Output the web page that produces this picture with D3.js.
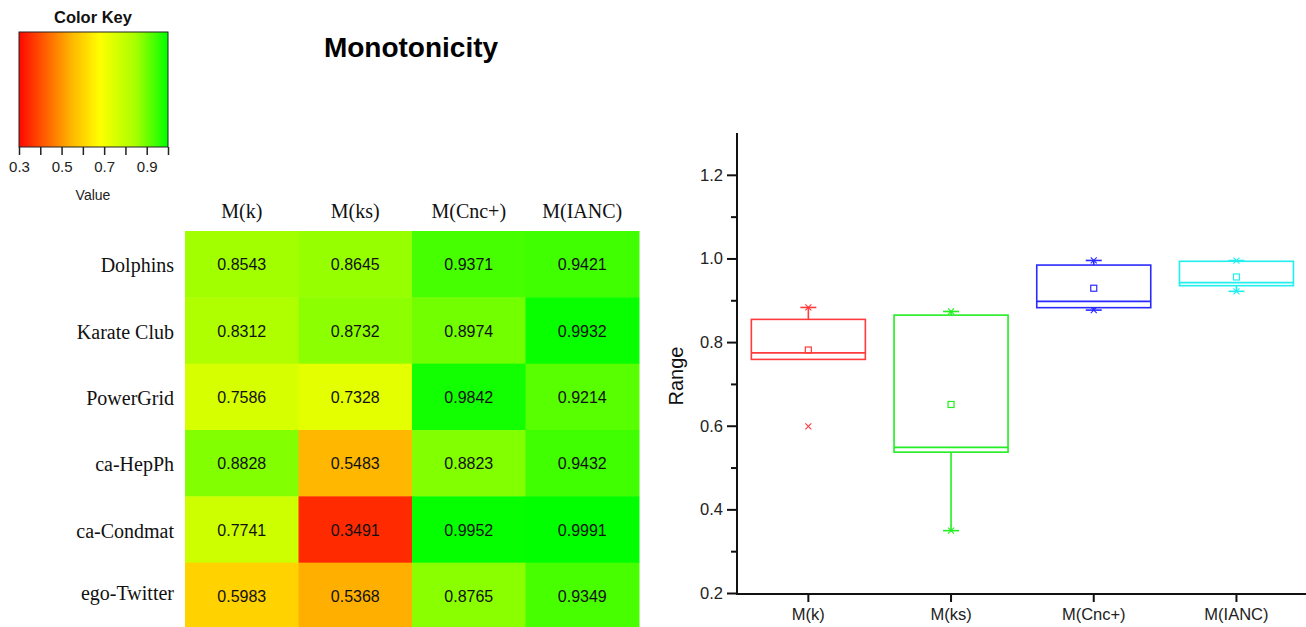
<!DOCTYPE html>
<html><head><meta charset="utf-8">
<script src="https://cdn.jsdelivr.net/npm/d3@7"></script>
<style>body{margin:0;background:#fff}svg{display:block}</style>
</head><body>
<svg id="c" width="1306" height="627"></svg>
<script>
// ---------- data ----------
const methods = ["M(k)", "M(ks)", "M(Cnc+)", "M(IANC)"];
const networks = ["Dolphins", "Karate Club", "PowerGrid", "ca-HepPh", "ca-Condmat", "ego-Twitter"];
const valMk    = [0.8543, 0.8312, 0.7586, 0.8828, 0.7741, 0.5983];
const valMks   = [0.8645, 0.8732, 0.7328, 0.5483, 0.3491, 0.5368];
const valMcnc  = [0.9371, 0.8974, 0.9842, 0.8823, 0.9952, 0.8765];
const valMianc = [0.9421, 0.9932, 0.9214, 0.9432, 0.9991, 0.9349];
const keyTicks = [0.3, 0.5, 0.7, 0.9];
// box statistics
const boxLow    = [0.7586, 0.3491, 0.8765, 0.9214];  // lower whisker
const boxQ1     = [0.7586, 0.5368, 0.8823, 0.9349];
const boxMedian = [0.7741, 0.5483, 0.8974, 0.9421];
const boxQ3     = [0.8543, 0.8645, 0.9842, 0.9932];
const boxHigh   = [0.8828, 0.8732, 0.9952, 0.9950];  // upper whisker
const boxMean   = [0.7810, 0.6508, 0.9288, 0.9557];
const boxMin    = [0.5983, 0.3491, 0.8765, 0.9214];
const boxMax    = [0.8828, 0.8732, 0.9952, 0.9950];
const rangeTicks = [0.2, 0.4, 0.6, 0.8, 1.0, 1.2];

const svg = d3.select("#c");
const sans = "Liberation Sans, Arial, sans-serif";
const serif = "Liberation Serif, Times New Roman, serif";

// ---------- color scale ----------
const color = d3.scaleLinear()
  .domain([0.29, 0.55, 0.68, 0.85, 1.0])
  .range(["#ff0000", "#ffb800", "#ffff00", "#a6ff00", "#00ff00"])
  .clamp(true);

// ---------- color key ----------
const kx = d3.scaleLinear().domain([0.3, 1.0]).range([19, 168]);
const defs = svg.append("defs");
const grad = defs.append("linearGradient").attr("id", "kg");
d3.range(0, 1.0001, 0.02).forEach(t => {
  const v = 0.3 + t * 0.7;
  grad.append("stop").attr("offset", (t * 100) + "%").attr("stop-color", color(v));
});
svg.append("rect").attr("x", kx(0.3)).attr("y", 32).attr("width", kx(1.0) - kx(0.3)).attr("height", 115)
  .attr("fill", "url(#kg)").attr("stroke", "#222").attr("stroke-width", 1);
const kAxis = svg.append("g").attr("transform", "translate(0,147)")
  .call(d3.axisBottom(kx).tickValues(d3.range(0.3, 1.0001, 0.1)).tickSize(8)
    .tickFormat(d => keyTicks.some(k => Math.abs(k - d) < 1e-6) ? d3.format(".1f")(d) : ""));
kAxis.select(".domain").remove();
kAxis.selectAll("line").attr("stroke", "#222").attr("stroke-width", 1.5);
kAxis.selectAll("text").attr("font-family", sans).attr("font-size", 15).attr("fill", "#222").attr("y", 14).attr("dy", "0.71em");
svg.append("text").attr("x", 93).attr("y", 23).attr("text-anchor", "middle")
  .attr("font-family", sans).attr("font-weight", "bold").attr("font-size", 16.5).attr("fill", "#111").text("Color Key");
svg.append("text").attr("x", 93).attr("y", 200).attr("text-anchor", "middle")
  .attr("font-family", sans).attr("font-size", 14).attr("fill", "#222").text("Value");

// ---------- heatmap ----------
svg.append("text").attr("x", 411).attr("y", 57).attr("text-anchor", "middle")
  .attr("font-family", sans).attr("font-weight", "bold").attr("font-size", 28).attr("fill", "#000").text("Monotonicity");

const cols = [valMk, valMks, valMcnc, valMianc];
const hx = d3.scaleBand().domain(methods).range([185, 639]);
const hy = d3.scaleBand().domain(networks).range([231, 629]);
const cells = [];
networks.forEach((n, r) => methods.forEach((m, c) => cells.push({n, m, v: cols[c][r]})));
const hg = svg.append("g");
hg.selectAll("rect").data(cells).join("rect")
  .attr("x", d => hx(d.m)).attr("y", d => hy(d.n))
  .attr("width", hx.bandwidth() + 0.5).attr("height", hy.bandwidth() + 0.5)
  .attr("fill", d => color(d.v));
hg.selectAll("text").data(cells).join("text")
  .attr("x", d => hx(d.m) + hx.bandwidth() / 2).attr("y", d => hy(d.n) + hy.bandwidth() / 2 + 6)
  .attr("text-anchor", "middle").attr("font-family", sans).attr("font-size", 16).attr("fill", "#111")
  .text(d => d3.format(".4f")(d.v));
svg.append("g").selectAll("text").data(methods).join("text")
  .attr("x", d => hx(d) + hx.bandwidth() / 2).attr("y", 218).attr("text-anchor", "middle")
  .attr("font-family", serif).attr("font-size", 20).attr("fill", "#111").text(d => d);
svg.append("g").selectAll("text").data(networks).join("text")
  .attr("x", 174).attr("y", (d, i) => hy(d) + hy.bandwidth() / 2 + 8 - (i === 5 ? 4 : 0)).attr("text-anchor", "end")
  .attr("font-family", serif).attr("font-size", 20).attr("fill", "#111").text(d => d);

// ---------- box plot ----------
const by = d3.scaleLinear().domain([0.2, 1.3]).range([593, 133]);
const bx = d3.scaleBand().domain(methods).range([737, 737 + 142.7 * 4]).paddingInner(0).paddingOuter(0);
const bxc = m => bx(m) + bx.bandwidth() / 2;
const boxColors = ["#ff3b3b", "#22ee22", "#2a2aff", "#22eeee"];

// y axis
const ya = svg.append("g").attr("transform", "translate(737,0)")
  .call(d3.axisLeft(by).tickValues(d3.range(0.2, 1.3001, 0.1)).tickSize(0)
    .tickFormat(d => rangeTicks.some(k => Math.abs(k - d) < 1e-6) ? d3.format(".1f")(d) : ""));
ya.select(".domain").remove();
ya.selectAll(".tick line").remove();
ya.selectAll(".tick").each(function(d) {
  const major = rangeTicks.some(k => Math.abs(k - d) < 1e-6);
  if (Math.abs(d - 1.3) < 1e-6) return;
  d3.select(this).append("line").attr("x1", major ? -10 : -6).attr("x2", 0)
    .attr("stroke", "#111").attr("stroke-width", 2);
});
ya.selectAll("text").attr("font-family", sans).attr("font-size", 16.5).attr("fill", "#222").attr("x", -14);
svg.append("line").attr("x1", 737).attr("x2", 737).attr("y1", 133).attr("y2", 594)
  .attr("stroke", "#111").attr("stroke-width", 2);
svg.append("text").attr("transform", "translate(683,376) rotate(-90)").attr("text-anchor", "middle")
  .attr("font-family", sans).attr("font-size", 20).attr("fill", "#111").text("Range");

// x axis
const xa = svg.append("g").attr("transform", "translate(0,594)")
  .call(d3.axisBottom(bx).tickSize(8).tickPadding(6));
xa.select(".domain").remove();
xa.selectAll("line").attr("stroke", "#111").attr("stroke-width", 2);
xa.selectAll("text").attr("font-family", sans).attr("font-size", 16.5).attr("fill", "#222");
svg.append("line").attr("x1", 736).attr("x2", 1306).attr("y1", 594).attr("y2", 594)
  .attr("stroke", "#111").attr("stroke-width", 2);

const bw = 114;
const bg = svg.append("g").attr("fill", "none").attr("stroke-width", 1.6);
methods.forEach((m, i) => {
  const g = bg.append("g").attr("stroke", boxColors[i]);
  const cx = bxc(m);
  g.append("rect").attr("x", cx - bw / 2).attr("y", by(boxQ3[i]))
    .attr("width", bw).attr("height", by(boxQ1[i]) - by(boxQ3[i]));
  g.append("line").attr("x1", cx - bw / 2).attr("x2", cx + bw / 2)
    .attr("y1", by(boxMedian[i])).attr("y2", by(boxMedian[i]));
  // whiskers
  g.append("line").attr("x1", cx).attr("x2", cx).attr("y1", by(boxQ3[i])).attr("y2", by(boxHigh[i]));
  g.append("line").attr("x1", cx).attr("x2", cx).attr("y1", by(boxQ1[i])).attr("y2", by(boxLow[i]));
  g.append("line").attr("x1", cx - 8).attr("x2", cx + 8).attr("y1", by(boxHigh[i])).attr("y2", by(boxHigh[i]));
  if (boxLow[i] < boxQ1[i])
    g.append("line").attr("x1", cx - 8).attr("x2", cx + 8).attr("y1", by(boxLow[i])).attr("y2", by(boxLow[i]));
  // mean square
  g.append("rect").attr("x", cx - 3).attr("y", by(boxMean[i]) - 3).attr("width", 6).attr("height", 6)
    .attr("stroke-width", 1.2);
  // min / max markers
  [boxMin[i], boxMax[i]].forEach(v => {
    const y = by(v);
    g.append("path").attr("d", `M${cx - 3},${y - 3}L${cx + 3},${y + 3}M${cx - 3},${y + 3}L${cx + 3},${y - 3}`)
      .attr("stroke-width", 1.1);
  });
});
</script>
</body></html>
